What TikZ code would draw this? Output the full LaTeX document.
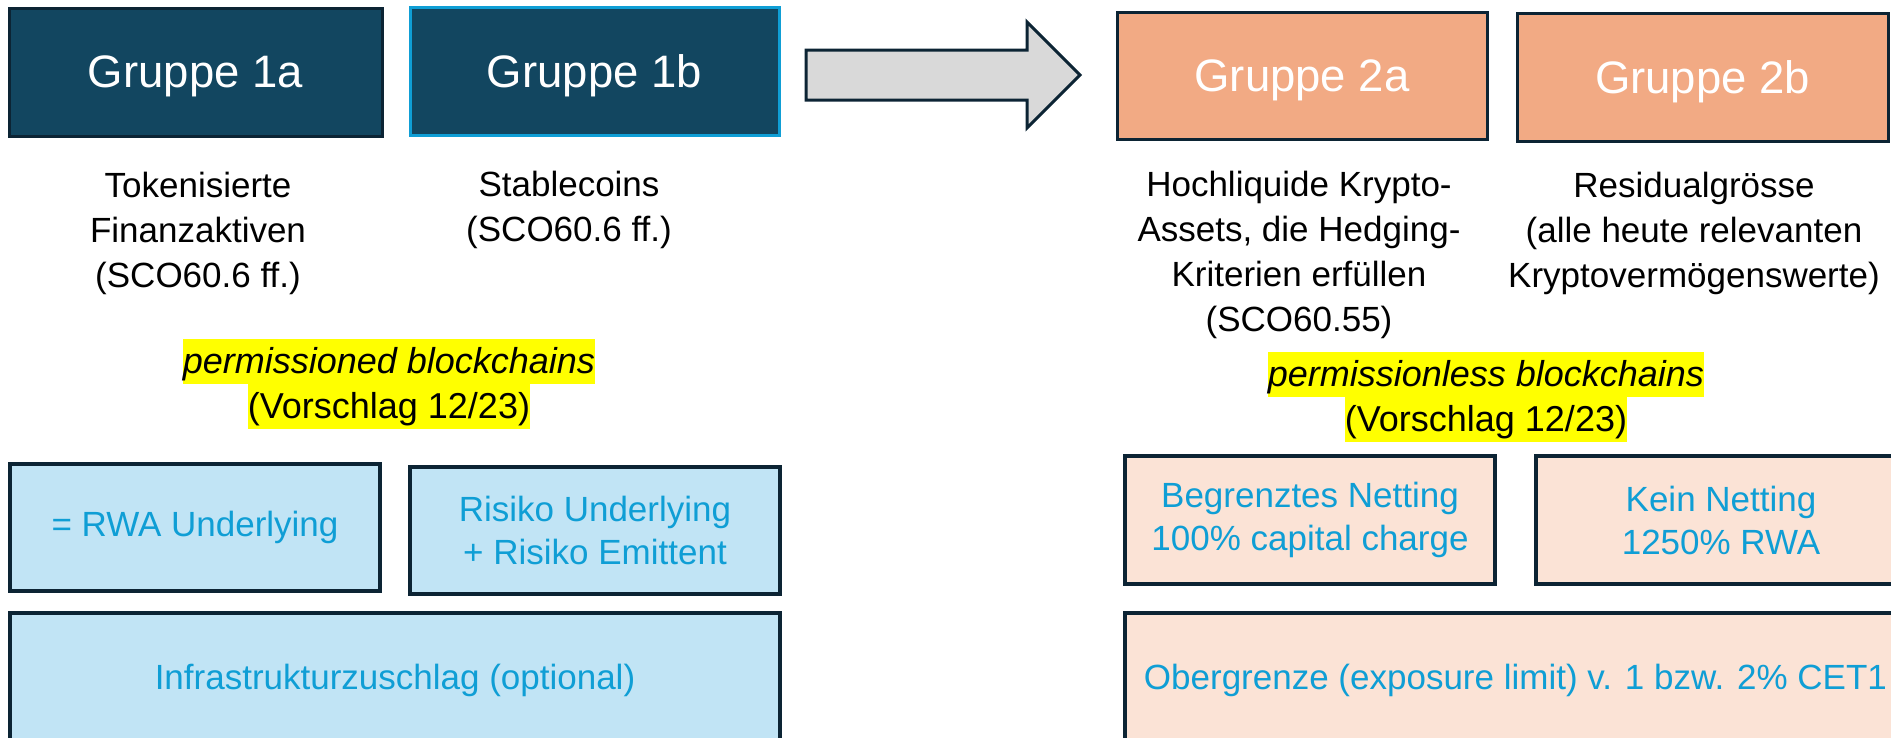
\documentclass[tikz,border=0pt]{standalone}
\usepackage{fontspec}
\setmainfont{Liberation Sans}
\definecolor{navy}{HTML}{124660}
\definecolor{edge}{HTML}{0C2434}
\definecolor{brightblue}{HTML}{0F9ED5}
\definecolor{orangefill}{HTML}{F2AA84}
\definecolor{peach}{HTML}{FBE3D6}
\definecolor{paleblue}{HTML}{C1E4F5}
\definecolor{arrowgray}{HTML}{D9D9D9}
\definecolor{marker}{HTML}{FFFF00}
\begin{document}
\begin{tikzpicture}[x=1pt,y=-1pt,
  box/.style={draw=edge,line width=3.5pt,inner sep=0pt,align=center,
    minimum width=370pt,minimum height=127pt},
  groupbox/.style={box,line width=3pt,text=white,text depth=0pt,
    font=\fontsize{45.5}{50}\selectfont},
  bluebox/.style={box,fill=paleblue,text=brightblue,
    font=\fontsize{35}{43}\selectfont},
  peachbox/.style={box,fill=peach,text=brightblue,
    font=\fontsize{35}{43}\selectfont},
  desc/.style={align=center,inner sep=0pt,text=black,
    font=\fontsize{35}{45}\selectfont},
  hl/.style={fill=marker,inner xsep=0pt,inner ysep=0pt,anchor=base,
    text height=34pt,text depth=11pt,font=\fontsize{36}{45}\selectfont}]
\useasboundingbox (0,0) rectangle (1891,737);
\clip (0,0) rectangle (1891,737);

% group headers
\node[groupbox,fill=navy,minimum width=373pt,minimum height=128pt] (g1a) at (195.5,72) {Gruppe 1a};
\node[groupbox,fill=navy,draw=brightblue,minimum width=369pt,minimum height=128pt] (g1b) at (594.5,71) {Gruppe 1b};
\node[groupbox,fill=orangefill] (g2a) at (1302,75.5) {Gruppe 2a};
\node[groupbox,fill=orangefill,minimum width=371pt,minimum height=128pt] (g2b) at (1702.5,77) {Gruppe 2b};

% block arrow between the two families
\draw[edge,line width=3pt,fill=arrowgray,line join=miter]
  (806,50) -- (1027,50) -- (1027,22) -- (1080,75) -- (1027,128)
  -- (1027,100) -- (806,100) -- cycle;

% descriptions
\node[desc] (d1a) at (198,233) {Tokenisierte\\Finanzaktiven\\(SCO60.6 ff.)};
\node[desc] (d1b) at (569,210) {Stablecoins\\(SCO60.6 ff.)};
\node[desc] (d2a) at (1299,255) {Hochliquide Krypto-\\Assets, die Hedging-\\Kriterien erfüllen\\(SCO60.55)};
\node[desc] (d2b) at (1694,233) {Residualgrösse\\(alle heute relevanten\\Kryptovermögenswerte)};

% highlighted notes
\node[hl,font=\fontsize{36}{45}\selectfont\itshape] (pd) at (389,373) {permissioned blockchains};
\node[hl] (pdv) at (389,418) {(Vorschlag 12/23)};
\node[hl,font=\fontsize{36}{45}\selectfont\itshape] (pl) at (1486,386) {permissionless blockchains};
\node[hl] (plv) at (1486,431) {(Vorschlag 12/23)};

% treatment boxes, group 1
\node[bluebox] (rwa) at (195,527.5) {= RWA Underlying};
\node[bluebox] (risk) at (595,530.5) {Risiko Underlying\\+ Risiko Emittent};
\node[bluebox,minimum width=770pt,minimum height=134pt] (infra) at (395,680) {Infrastrukturzuschlag (optional)};

% treatment boxes, group 2
\node[peachbox,minimum height=128pt] (net) at (1310,520) {Begrenztes Netting\\100\% capital charge};
\node[peachbox,minimum height=128pt] (nonet) at (1721,520) {Kein Netting\\1250\% RWA};
\node[peachbox,minimum width=781pt,minimum height=134pt] (limit) at (1515.5,680) {Obergrenze (exposure limit) v. 1 bzw. 2\% CET1};
\end{tikzpicture}
\end{document}
